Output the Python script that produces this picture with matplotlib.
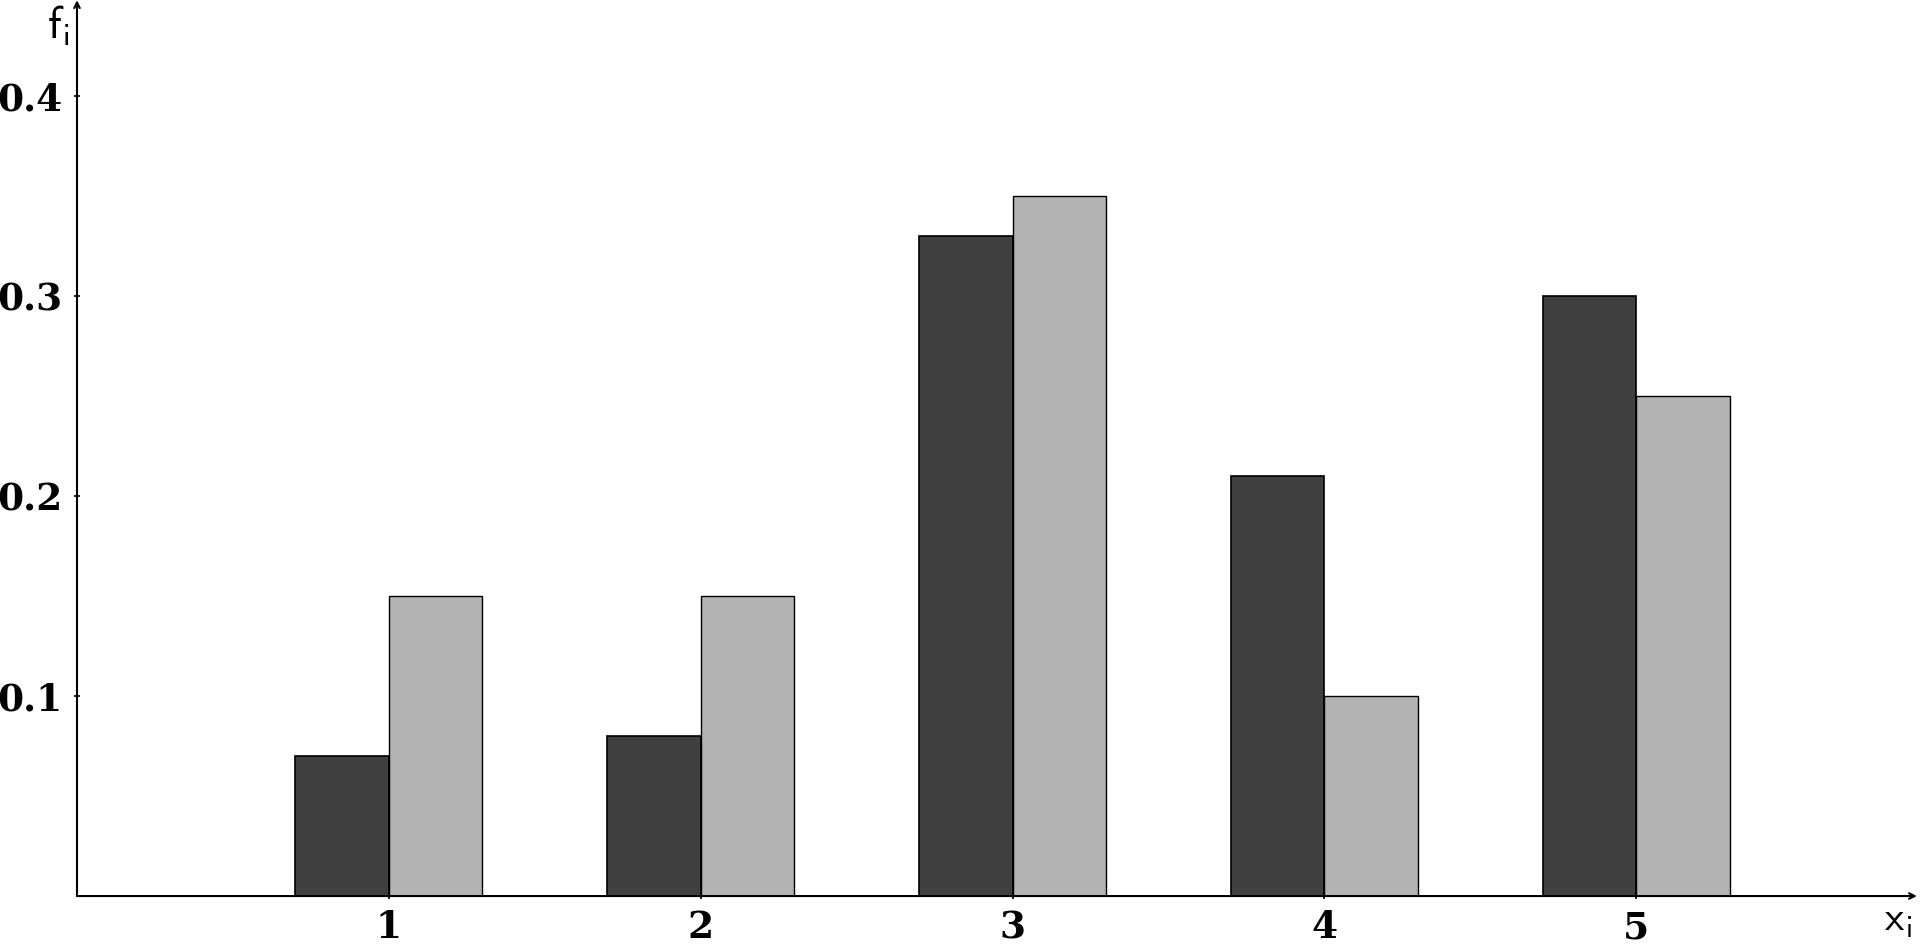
import matplotlib
matplotlib.use('Agg')
import matplotlib.pyplot as plt
import numpy as np

# data
categories = [1, 2, 3, 4, 5]
dark_values = [0.07, 0.08, 0.33, 0.21, 0.30]
light_values = [0.15, 0.15, 0.35, 0.10, 0.25]
y_ticks = [0.1, 0.2, 0.3, 0.4]

plt.rcParams['mathtext.fontset'] = 'cm'

fig = plt.figure(figsize=(19.2, 9.44), dpi=100)
ax = fig.add_axes([0.0401, 0.0508, 0.9583, 0.949])

x = np.array(categories, dtype=float)
width = 0.3
ax.bar(x - width, dark_values, width=width, align='edge',
       color='#404040', edgecolor='black', linewidth=1.2)
ax.bar(x, light_values, width=width, align='edge',
       color='#b3b3b3', edgecolor='black', linewidth=1.0)

ax.set_xlim(0, 5.9)
ax.set_ylim(0, 0.448)

for side in ['top', 'right', 'left', 'bottom']:
    ax.spines[side].set_visible(False)

# axes with arrowheads
ax.annotate('', xy=(1, 0), xytext=(0, 0), xycoords='axes fraction',
            arrowprops=dict(arrowstyle='->', lw=1.5, color='black',
                            shrinkA=0, shrinkB=0))
ax.annotate('', xy=(0, 1), xytext=(0, 0), xycoords='axes fraction',
            arrowprops=dict(arrowstyle='->', lw=1.5, color='black',
                            shrinkA=0, shrinkB=0))

tick_font = dict(family='DejaVu Serif', weight='bold', size=27)
ax.set_xticks(categories)
ax.set_xticklabels([str(c) for c in categories], fontdict=tick_font)
ax.set_yticks(y_ticks)
ax.set_yticklabels(['%.1f' % v for v in y_ticks], fontdict=tick_font)
ax.tick_params(axis='both', direction='inout', length=5, width=1.2, color='black')
ax.tick_params(axis='x', pad=7)
ax.tick_params(axis='y', pad=8)

fig.text(0.0245, 0.996, r'$\mathsf{f}_\mathsf{i}$', fontsize=32, ha='left', va='top')
fig.text(0.981, 0.004, r'$\mathsf{x}_\mathsf{i}$', fontsize=30, ha='left', va='bottom')

fig.savefig('out.png', dpi=100)
